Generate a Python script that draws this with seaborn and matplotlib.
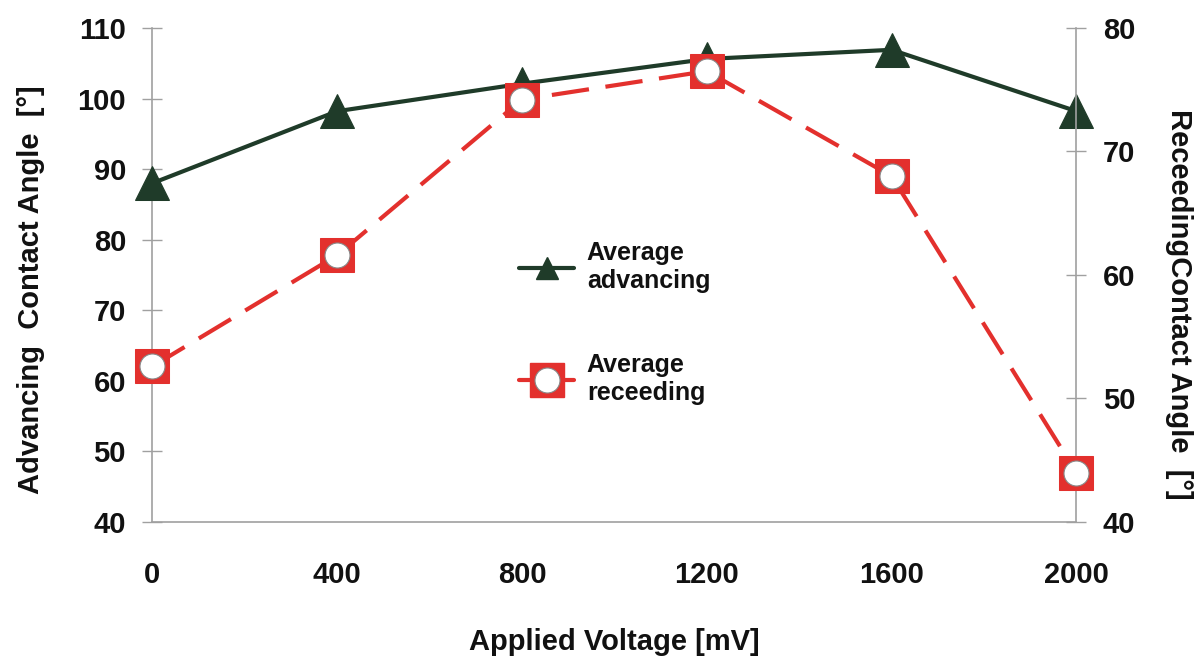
import matplotlib
matplotlib.use("Agg")
import matplotlib.pyplot as plt
import seaborn as sns
import pandas as pd
from matplotlib.legend_handler import HandlerTuple
from matplotlib.lines import Line2D

# data
voltage = [0, 400, 800, 1200, 1600, 2000]
advancing = [88.0, 98.2, 102.1, 105.6, 106.9, 98.2]
receding = [52.6, 61.6, 74.2, 76.5, 68.0, 44.0]

x_ticks = [0, 400, 800, 1200, 1600, 2000]
left_ticks = [40, 50, 60, 70, 80, 90, 100, 110]
right_ticks = [40, 50, 60, 70, 80]

green = "#1f3b29"
red = "#e3302d"
axis_grey = "#a0a0a0"

df = pd.DataFrame({"voltage": voltage, "advancing": advancing, "receding": receding})

sns.set_style("white")
plt.rcParams["font.family"] = ["Liberation Sans", "DejaVu Sans"]
plt.rcParams["font.weight"] = "bold"
plt.rcParams["text.color"] = "#111111"

fig = plt.figure(figsize=(12, 6.57), dpi=100)
ax = fig.add_axes([0.127, 0.2055, 0.77, 0.752])
ax2 = ax.twinx()

sns.lineplot(data=df, x="voltage", y="advancing", ax=ax, color=green, linewidth=3,
             marker="^", markersize=24, markeredgecolor=green, zorder=3, clip_on=False)
sns.lineplot(data=df, x="voltage", y="receding", ax=ax2, color=red, linewidth=3,
             marker="s", markersize=24, markeredgecolor=red,
             dashes=False, linestyle=(0, (9, 4)), zorder=3, clip_on=False)
ax2.plot(df["voltage"], df["receding"], linestyle="none", marker="o",
         markersize=18, markerfacecolor="white", markeredgecolor="#888888",
         markeredgewidth=0.8, zorder=4, clip_on=False)

ax.set_xlim(0, 2000)
ax.set_ylim(40, 110)
ax2.set_ylim(40, 80)
ax.set_xticks(x_ticks)
ax.set_yticks(left_ticks)
ax2.set_yticks(right_ticks)

for a in (ax, ax2):
    a.set_facecolor("none")
    for s in a.spines.values():
        s.set_visible(False)
    a.tick_params(labelsize=21, labelcolor="#111111", width=1, color=axis_grey)
ax.spines["left"].set_visible(True)
ax.spines["bottom"].set_visible(True)
ax2.spines["right"].set_visible(True)
for s in (ax.spines["left"], ax.spines["bottom"], ax2.spines["right"]):
    s.set_color(axis_grey)
    s.set_linewidth(1.2)

ax.tick_params(axis="y", direction="inout", length=14, pad=12)
ax2.tick_params(axis="y", direction="inout", length=14, pad=12)
ax.tick_params(axis="x", direction="out", length=10, pad=18)

ax.set_xlabel("Applied Voltage [mV]", fontsize=21, fontweight="bold", color="#111111")
ax.xaxis.set_label_coords(0.5, -0.215)
ax.set_ylabel("Advancing  Contact Angle  [°]", fontsize=21, fontweight="bold", color="#111111")
ax.yaxis.set_label_coords(-0.116, 0.47)
ax2.set_ylabel("ReceedingContact Angle  [°]", fontsize=21, fontweight="bold",
               rotation=-90, color="#111111")
ax2.yaxis.set_label_coords(1.126, 0.44)

h_adv = Line2D([], [], color=green, linewidth=3, marker="^", markersize=16)
h_sq = Line2D([], [], color=red, linewidth=3, marker="s", markersize=24)
h_circ = Line2D([], [], linestyle="none", marker="o", markersize=18,
                markerfacecolor="white", markeredgecolor="#888888", markeredgewidth=0.8)
fig.legend([h_adv, (h_sq, h_circ)], ["Average\nadvancing", "Average\nreceeding"],
           handler_map={tuple: HandlerTuple(ndivide=1)},
           loc="upper left", bbox_to_anchor=(0.414, 0.667), frameon=False,
           labelspacing=2.4, handlelength=2.2, handletextpad=0.5,
           prop={"weight": "bold", "size": 18})

fig.savefig("out.png", dpi=100, facecolor="white")
